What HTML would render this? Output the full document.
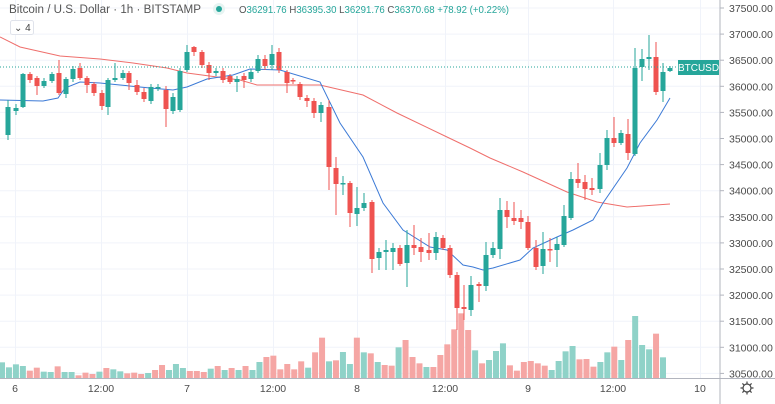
<!DOCTYPE html>
<html><head><meta charset="utf-8"><style>
html,body{margin:0;padding:0;background:#fff;}
body{width:775px;height:404px;overflow:hidden;font-family:"Liberation Sans","DejaVu Sans",sans-serif;}
</style></head><body>
<svg id="s" width="775" height="404" xmlns="http://www.w3.org/2000/svg" style="display:block">
<rect width="775" height="404" fill="#fff"/>
<g id="grid" stroke="#f0f3fa" stroke-width="1"></g>
<g id="vol"></g>
<polyline id="ma2" fill="none" stroke="#ef6f6c" stroke-width="1" points="0,37 20,47 60,56 100,59 133,63 167,68 187,73 217,77 240,80 257,85 320,85 363,95 397,113 447,137 470,148 490,158 523,172 567,192 597,202 627,207 670,204"/>
<polyline id="ma1" fill="none" stroke="#3c7ad6" stroke-width="1" points="0,100 43,101 58,98 65,88 80,82 100,83 120,85 150,88 173,90 187,87 207,79 233,75 250,69 280,70 320,82 340,123 363,157 383,203 403,230 430,247 447,250 463,265 473,267 483,270 493,268 520,260 533,248 557,237 573,230 593,220 603,203 627,168 640,143 657,120 670,98"/>
<g id="cand"></g>
<line x1="0" y1="67" x2="720" y2="67" stroke="#26a69a" stroke-width="1" stroke-dasharray="1,2"/>
<line x1="720" y1="0" x2="720" y2="404" stroke="#b2b5be" stroke-width="1"/>
<line x1="0" y1="378.5" x2="775" y2="378.5" stroke="#b2b5be" stroke-width="1"/>
<g id="ax" font-size="10.5" fill="#4a4a4a"></g>
<rect x="678" y="60" width="41" height="15" fill="#26a69a"/>
<text x="698.5" y="71" font-size="10" fill="#fff" text-anchor="middle">BTCUSD</text>
<g font-size="10.5" fill="#4a4a4a" text-anchor="middle">
<text x="15" y="392">6</text><text x="101" y="392">12:00</text><text x="187" y="392">7</text><text x="273" y="392">12:00</text><text x="357" y="392">8</text><text x="445" y="392">12:00</text><text x="528" y="392">9</text><text x="613" y="392">12:00</text><text x="700" y="392">10</text>
</g>
<g transform="translate(747,388)" fill="none" stroke="#444" stroke-width="1.2"><circle r="4"/><path d="M0,-6.5V-4.5M0,4.5V6.5M-6.5,0H-4.5M4.5,0H6.5M-4.6,-4.6L-3.2,-3.2M3.2,3.2L4.6,4.6M-4.6,4.6L-3.2,3.2M3.2,-3.2L4.6,-4.6"/></g>
<text x="9" y="13" font-size="11.5" fill="#555" textLength="192" lengthAdjust="spacingAndGlyphs">Bitcoin / U.S. Dollar · 1h · BITSTAMP</text>
<circle cx="219" cy="9" r="6" fill="#e6f4f2"/><circle cx="219" cy="9" r="3" fill="#26a69a"/>
<text x="239" y="13" font-size="10.5" fill="#26a69a" textLength="270" lengthAdjust="spacingAndGlyphs"><tspan fill="#555">O</tspan>36291.76 <tspan fill="#555">H</tspan>36395.30 <tspan fill="#555">L</tspan>36291.76 <tspan fill="#555">C</tspan>36370.68 +78.92 (+0.22%)</text>
<rect x="10.5" y="20.5" width="23" height="14" rx="2" fill="#fff" stroke="#e0e3eb"/>
<text x="14" y="31" font-size="10" fill="#444">⌄ 4</text>
</svg>
<script>
var NS="http://www.w3.org/2000/svg";
function el(p,t,a){var e=document.createElementNS(NS,t);for(var k in a)e.setAttribute(k,a[k]);p.appendChild(e);return e;}
var g=document.getElementById("grid"),ax=document.getElementById("ax");
[15,101,187,273,357,445,528,613,700].forEach(function(x){el(g,"line",{x1:x+.5,y1:0,x2:x+.5,y2:378});});
for(var k=0;k<=14;k++){var y=8+26.1*k;el(g,"line",{x1:0,y1:y,x2:720,y2:y});
 el(ax,"line",{x1:720,y1:y,x2:724,y2:y,stroke:"#b2b5be"});
 var t=el(ax,"text",{x:729,y:y+4});t.textContent=(37500-500*k).toFixed(2);}
var C=[[8,107,135,100,140,"g"],[16,108,111,104,115,"g"],[23,74,107,73,108,"g"],[30,74,80,72,83,"r"],[37,78,86,76,95,"r"],[44,81,86,78,88,"g"],[52,74,81,72,83,"g"],[59,73,93,60,95,"r"],[66,79,94,77,98,"g"],[73,69,79,66,82,"g"],[80,68,78,63,80,"r"],[87,78,85,76,93,"r"],[94,84,93,82,96,"r"],[102,93,106,90,110,"r"],[108,80,107,78,115,"g"],[115,78,80,63,82,"g"],[123,73,78,70,80,"g"],[129,73,83,71,90,"r"],[137,85,92,80,95,"r"],[144,92,99,88,102,"r"],[151,87,101,84,104,"g"],[158,87,88,84,91,"g"],[166,90,109,86,127,"r"],[173,97,111,93,114,"g"],[180,71,110,68,112,"g"],[187,52,70,45,72,"g"],[194,47,52,46,56,"r"],[202,52,65,50,68,"r"],[209,65,73,62,80,"r"],[216,71,73,68,76,"g"],[223,71,80,68,83,"r"],[230,76,82,74,84,"r"],[237,79,82,76,92,"g"],[244,76,80,73,88,"r"],[251,72,79,69,82,"g"],[258,59,71,55,73,"g"],[265,59,66,55,70,"r"],[272,54,65,45,70,"g"],[279,52,70,48,73,"r"],[287,72,83,70,93,"r"],[293,80,81,78,84,"r"],[300,84,97,82,100,"r"],[307,98,101,95,107,"r"],[314,101,113,98,118,"r"],[321,105,113,102,122,"g"],[329,107,167,100,190,"r"],[336,168,184,157,215,"r"],[343,183,184,176,195,"g"],[350,183,213,181,227,"r"],[357,208,214,187,226,"g"],[364,203,208,193,211,"g"],[372,202,259,200,273,"r"],[379,252,258,248,270,"g"],[386,250,252,240,270,"g"],[393,248,252,243,270,"g"],[400,248,264,245,266,"r"],[407,245,263,230,287,"g"],[414,245,248,225,255,"r"],[421,247,252,238,262,"r"],[429,250,253,233,260,"r"],[436,237,253,232,260,"g"],[443,238,248,235,250,"r"],[450,248,275,245,278,"r"],[457,275,308,272,330,"r"],[464,307,309,285,320,"r"],[471,285,310,276,316,"g"],[479,284,286,282,302,"r"],[486,255,286,242,291,"g"],[493,248,255,242,258,"g"],[500,210,249,198,259,"g"],[507,210,217,201,228,"r"],[514,218,221,202,225,"r"],[521,218,222,210,229,"r"],[528,222,248,216,250,"r"],[536,248,267,240,270,"r"],[543,249,266,232,274,"g"],[550,249,250,238,262,"r"],[557,244,250,237,267,"g"],[564,216,245,205,247,"g"],[571,179,218,172,220,"g"],[578,179,183,163,188,"r"],[585,182,189,175,200,"r"],[592,188,190,178,195,"r"],[600,165,189,153,193,"g"],[607,138,165,130,170,"g"],[614,138,143,117,147,"r"],[621,133,143,130,145,"g"],[628,134,153,119,160,"r"],[635,68,154,48,156,"g"],[642,59,67,49,81,"g"],[649,57,59,35,70,"g"],[656,57,92,42,95,"r"],[663,72,91,63,102,"g"],[670,68,71,66,72,"g"]];
var cg=document.getElementById("cand");
C.forEach(function(c){var col=c[5]=="g"?"#26a69a":"#ef5350";
 el(cg,"line",{x1:c[0],y1:c[3],x2:c[0],y2:c[4],stroke:col,"stroke-width":1});
 el(cg,"rect",{x:c[0]-2.5,y:c[1],width:5,height:Math.max(1.5,c[2]-c[1]),fill:col});});
var V=[["g",187],["g",202],["g",193],["g",198],["r",212],["r",203],["g",215],["g",216],["r",199],["g",216],["g",216],["r",226],["r",218],["r",222],["g",215],["r",204],["g",208],["g",214],["r",220],["r",218],["r",222],["g",219],["r",210],["r",195],["g",210],["g",192],["g",204],["r",213],["r",213],["r",216],["g",206],["r",198],["g",210],["r",204],["g",210],["r",198],["g",210],["g",186],["r",171],["r",167],["r",208],["r",192],["r",208],["r",184],["g",203],["r",157],["r",113],["g",184],["r",181],["g",156],["g",192],["r",113],["g",157],["r",160],["g",186],["r",195],["r",197],["g",142],["r",120],["r",171],["r",190],["g",201],["r",201],["r",165],["r",133],["r",88],["r",40],["r",90],["g",151],["r",190],["g",180],["g",153],["g",130],["r",196],["r",212],["r",186],["r",183],["r",190],["r",197],["g",210],["g",183],["g",154],["g",138],["r",178],["r",177],["r",200],["g",186],["g",157],["r",140],["g",180],["r",120],["g",48],["g",135],["g",148],["r",101],["g",172]];
var vg=document.getElementById("vol"),n=V.length,step=(663-2)/(n-1);
V.forEach(function(v,i){var top=300+v[1]/3;var x=2+i*step;
 el(vg,"rect",{x:x-3,y:top,width:6,height:378-top,fill:v[0]=="g"?"#8fd2c8":"#f5a6a4"});});
</script>
</body></html>
